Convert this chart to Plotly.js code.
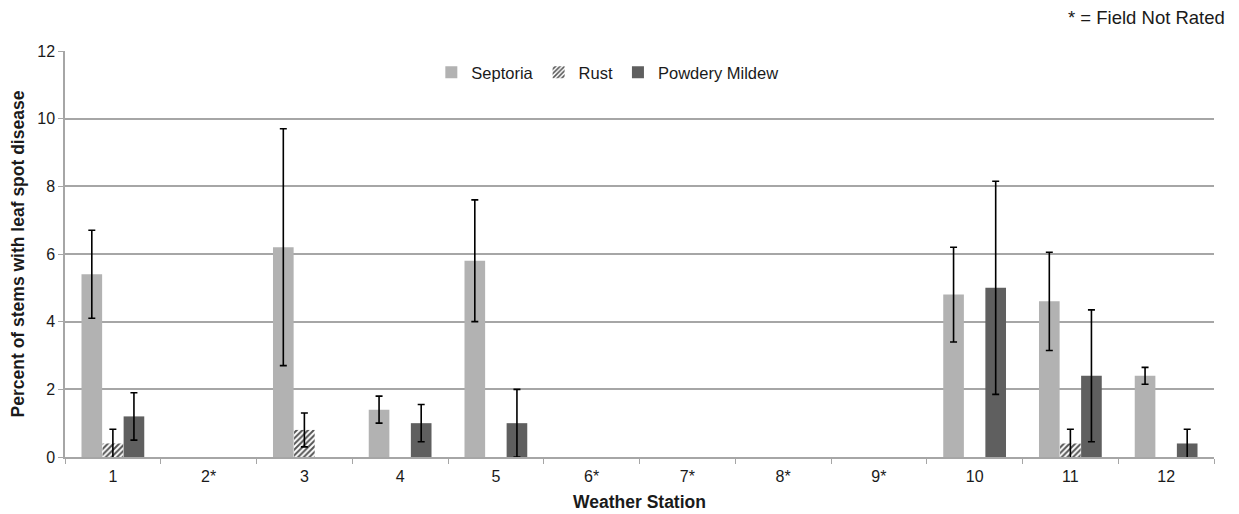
<!DOCTYPE html>
<html><head><meta charset="utf-8">
<script src="https://cdn.plot.ly/plotly-3.0.1.min.js"></script>
<style>html,body{margin:0;padding:0;background:#fff}#c{width:1239px;height:514px}</style>
</head><body><div id="c"></div>
<script>
var stations = ["1","2*","3","4","5","6*","7*","8*","9*","10","11","12"];
var septoria = [5.4,null,6.2,1.4,5.8,null,null,null,null,4.8,4.6,2.4];
var septoriaErr = [1.3,null,3.5,0.4,1.8,null,null,null,null,1.4,1.45,0.25];
var rust = [0.4,null,0.8,null,null,null,null,null,null,null,0.4,null];
var rustErr = [0.42,null,0.5,null,null,null,null,null,null,null,0.42,null];
var mildew = [1.2,null,null,1.0,1.0,null,null,null,null,5.0,2.4,0.4];
var mildewErr = [0.7,null,null,0.55,1.0,null,null,null,null,3.15,1.95,0.42];

function eb(arr){return {type:'data',array:arr,visible:true,color:'#000',thickness:1.6,width:3.5};}
var font = 'Liberation Sans, Arial, sans-serif';
var traces = [
 {type:'bar',name:'Septoria',x:stations,y:septoria,error_y:eb(septoriaErr),marker:{color:'#b2b2b2'}},
 {type:'bar',name:'Rust',x:stations,y:rust,error_y:eb(rustErr),marker:{color:'#ffffff',pattern:{shape:'/',fgcolor:'#555555',bgcolor:'#ffffff',size:4,solidity:0.5}}},
 {type:'bar',name:'Powdery Mildew',x:stations,y:mildew,error_y:eb(mildewErr),marker:{color:'#5f5f5f'}}
];
var layout = {
 width:1239,height:514,
 margin:{l:65,r:25,t:51,b:57},
 paper_bgcolor:'#fff',plot_bgcolor:'#fff',
 font:{family:font,size:16,color:'#1a1a1a'},
 barmode:'group',bargap:0.34,bargroupgap:0.02,
 showlegend:true,
 legend:{orientation:'h',x:0.472,xanchor:'center',y:0.99,yanchor:'top',font:{size:16.5,color:'#1a1a1a'},bgcolor:'rgba(0,0,0,0)',traceorder:'normal',itemwidth:30,itemsizing:'constant'},
 xaxis:{type:'category',showgrid:false,showline:true,linecolor:'#a6a6a6',linewidth:1.5,ticks:'outside',tickson:'boundaries',ticklen:5,tickcolor:'#a6a6a6',ticklabelstandoff:4,
   title:{text:'<b>Weather Station</b>',font:{size:17.5,color:'#1a1a1a'},standoff:12},tickfont:{size:16,color:'#1a1a1a'}},
 yaxis:{range:[0,12],dtick:2,showgrid:true,gridcolor:'#a6a6a6',gridwidth:2,zeroline:false,showline:true,linecolor:'#a6a6a6',linewidth:1.5,ticks:'outside',ticklen:5,tickcolor:'#a6a6a6',
   title:{text:'<b>Percent of stems with leaf spot disease</b>',font:{size:17.5,color:'#1a1a1a'},standoff:8},tickfont:{size:16,color:'#1a1a1a'}},
 annotations:[{text:'* = Field Not Rated',xref:'paper',yref:'paper',x:1.0,y:1.0,yshift:34,xshift:13,xanchor:'right',yanchor:'middle',showarrow:false,font:{size:18.5,color:'#1a1a1a'}}]
};
Plotly.newPlot('c',traces,layout,{displayModeBar:false});
</script></body></html>
